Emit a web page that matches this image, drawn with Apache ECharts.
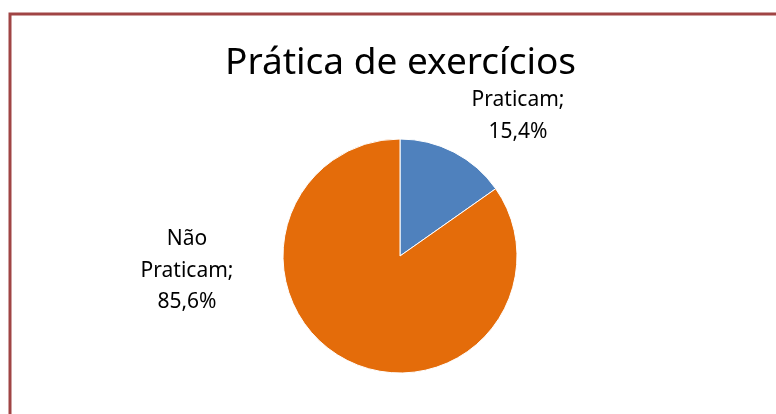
<!DOCTYPE html>
<html>
<head>
<meta charset="utf-8">
<script src="https://cdn.jsdelivr.net/npm/echarts@6/dist/echarts.min.js"></script>
<style>
  html, body { margin: 0; padding: 0; background: #ffffff; }
  #chart { width: 776px; height: 414px; }
</style>
</head>
<body>
<div id="chart"></div>
<script>
// Exercise practice survey: share of respondents
const categories = ['Praticam', 'Não Praticam'];
const percentages = [15.4, 85.6];
const sliceColors = ['#4f81bd', '#e46c0a'];
const titleText = 'Prática de exercícios';

// Label anchor points (centre of the text block) for each slice
const labelAnchors = [
  { x: 518, y: 116 },
  { x: 187, y: 271 }
];

const chart = echarts.init(document.getElementById('chart'), null, { renderer: 'canvas' });

chart.setOption({
  backgroundColor: '#ffffff',
  animation: false,
  title: {
    text: titleText,
    left: 225,
    top: 45,
    padding: 0,
    textStyle: {
      fontFamily: 'Noto Sans',
      fontSize: 37,
      fontWeight: 'normal',
      color: '#000000'
    }
  },
  graphic: [
    {
      type: 'polyline',
      shape: { points: [[10, 414], [10, 14], [776, 14]] },
      style: { stroke: '#a04444', lineWidth: 3, fill: null }
    }
  ],
  series: [
    {
      type: 'pie',
      center: [400, 256],
      radius: 117,
      startAngle: 90,
      clockwise: true,
      data: categories.map((name, i) => ({
        name: name,
        value: percentages[i],
        itemStyle: { color: sliceColors[i] }
      })),
      itemStyle: { borderColor: '#ffffff', borderWidth: 1 },
      label: {
        show: true,
        position: 'outside',
        formatter: (p) => {
          const v = percentages[p.dataIndex].toFixed(1).replace('.', ',') + '%';
          return p.dataIndex === 1
            ? 'Não\nPraticam;\n' + v
            : p.name + ';\n' + v;
        },
        fontFamily: 'Noto Sans',
        fontSize: 21,
        lineHeight: 31.5,
        color: '#000000',
        align: 'center'
      },
      labelLine: { show: false },
      labelLayout: (params) => ({
        x: labelAnchors[params.dataIndex].x,
        y: labelAnchors[params.dataIndex].y,
        align: 'center',
        verticalAlign: 'middle'
      }),
      emphasis: { disabled: true }
    }
  ]
});
</script>
</body>
</html>
